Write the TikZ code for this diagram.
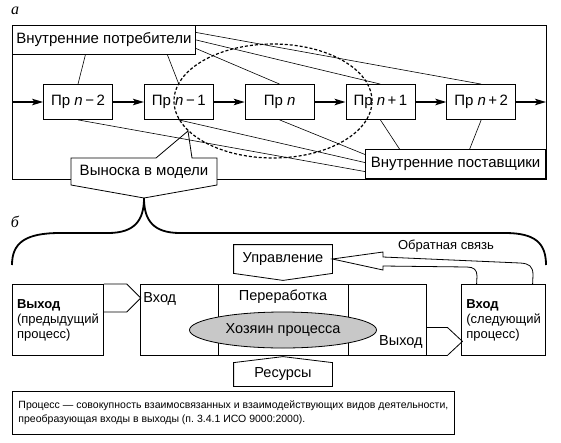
\documentclass[tikz,border=0pt]{standalone}
\usepackage{fontspec}
\setmainfont{Liberation Sans}
\newfontfamily\partfont{Liberation Serif}
\usepackage{tikz}
\usetikzlibrary{arrows,arrows.meta,shapes,positioning}
\definecolor{ownergray}{RGB}{200,200,200}
\tikzstyle{box} = [draw, rectangle, line width=0.8pt, fill=white, inner sep=2pt]
\tikzstyle{pr} = [box, minimum width=69pt, minimum height=35pt]
\tikzstyle{cell} = [box, minimum height=71pt]
\tikzstyle{side} = [box, minimum height=71pt, align=left, inner sep=0pt, font=\fontsize{13}{15}\selectfont]
\tikzstyle{lbl} = [inner sep=0pt, font=\fontsize{14.5}{17}\selectfont]
\tikzstyle{flow} = [line width=1.4pt,->,>={Stealth[length=11pt,width=6.5pt,inset=2.5pt]}]
\tikzstyle{link} = [line width=0.6pt]
\tikzstyle{part} = [inner sep=0pt, font=\partfont\itshape\fontsize{16}{16}\selectfont]

\begin{document}
\begin{tikzpicture}[x=1pt, y=-1pt, line width=0.8pt, font=\fontsize{15}{18}\selectfont]
\useasboundingbox (0,0) rectangle (561,442);

% a: chain of processes
\node[part] (la) at (15,11) {а};
\draw (12,25) rectangle (546,179);
\draw[fill=white] (71,185) -- (71,158) -- (156,158) -- (188,131) -- (192,158) -- (217,158) -- (217,185) -- (144,198) -- cycle;

\node[box, anchor=north west, minimum width=183pt, minimum height=29pt] (potreb) at (12,25) {Внутренние потребители};
\node[box, anchor=south east, minimum width=180pt, minimum height=29pt] (postav) at (546,179) {Внутренние поставщики};
\node[pr] (p1) at (78,102) {Пр \textit{n}\,−\,2};
\node[pr, right=31pt of p1] (p2) {Пр \textit{n}\,−\,1};
\node[pr, right=31pt of p2] (p3) {Пр \textit{n}};
\node[pr, right=31pt of p3] (p4) {Пр \textit{n}\,+\,1};
\node[pr, right=31pt of p4] (p5) {Пр \textit{n}\,+\,2};

% consumers and suppliers
\draw[link] ([xshift=-18.5pt]potreb.south) -- (p1.north);
\draw[link] ([xshift=63.5pt]potreb.south) -- (p2.north);
\draw[link] ([yshift=-8.5pt]potreb.east) -- (p3.north);
\draw[link] (potreb.east) -- (p4.north);
\draw[link] ([yshift=7.5pt]potreb.east) -- (p5.north);
\draw[link] (p1.south) -- ([yshift=-7.5pt]postav.west);
\draw[link] (p2.south) -- ([yshift=1.5pt]postav.west);
\draw[link] (p3.south) -- ([yshift=9.5pt]postav.west);
\draw[link] (p4.south) -- ([xshift=-56pt]postav.north);
\draw[link] (p5.south) -- ([xshift=14pt]postav.north);

% flow
\coordinate (entry) at (12,102);
\coordinate (exit) at (546,102);
\draw[flow] (entry) -- (p1);
\foreach \a/\b in {p1/p2,p2/p3,p3/p4,p4/p5}
  \draw[flow] (\a) -- (\b);
\draw[flow] (p5) -- (exit);

\draw[line width=1.2pt, dash pattern=on 3pt off 2pt] (273,101) ellipse [x radius=99pt, y radius=57pt];
\node (vyn) at (144,171.5) {Выноска в модели};

% b: process model
\node[part] (lb) at (15,222) {б};
\draw[line width=1.8pt] (12,265) .. controls (12,243) and (25,233) .. (60,233) -- (108,233) .. controls (135,233) and (144,220) .. (144,198) .. controls (144,220) and (153,233) .. (180,233) -- (505,233) .. controls (535,233) and (546,243) .. (546,265);

\node[side, anchor=north west, minimum width=91pt] (prev) at (12,284) {\textbf{Выход}\\(предыдущий\\процесс)};
\node[cell, minimum width=78pt] (cin) at (179,319.5) {};
\node[cell, minimum width=130pt] (cwork) at (283,319.5) {};
\node[cell, minimum width=78pt] (cout) at (387,319.5) {};
\node[side, anchor=north east, minimum width=84pt] (next) at (546,284) {\textbf{Вход}\\(следующий\\процесс)};

\node[ellipse, draw, fill=ownergray, minimum width=187pt, minimum height=36pt, inner sep=0pt, font=\fontsize{14.5}{17}\selectfont] (owner) at (283,330) {Хозяин процесса};
\node[lbl, anchor=base west] (tin) at (143,302) {Вход};
\node[lbl, anchor=base] (twork) at (283,300) {Переработка};
\node[lbl, anchor=base east] (tout) at (423,345) {Выход};

% in / out
\draw (prev.north east) -- ++(23,0) -- ++(14,14) -- ++(-14,14) -- ++(-23,0);
\draw ([yshift=28pt]cout.south east) -- ++(21,0) -- ++(15,14) -- ++(-15,14) -- ++(-21,0);

% control, resources
\node[lbl, minimum width=98pt, minimum height=28pt] (upr) at (283,259) {Управление};
\draw (upr.south west) -- (upr.north west) -- (upr.north east) -- (upr.south east) -- ([yshift=-7pt]upr.south) -- cycle;
\node[lbl, minimum width=98pt, minimum height=23pt] (res) at (283,374.5) {Ресурсы};
\draw (res.north west) -- ([yshift=6pt]res.north) -- (res.north east) -- (res.south east) -- (res.south west) -- cycle;

% feedback
\draw ([xshift=29pt]next.north) -- (533,275) .. controls (533,266) and (529,263.5) .. (520,263) -- (383,257) -- (383,252) -- (upr.east) -- (383,270) -- (383,266) -- (467,267) .. controls (474,267) and (477,270) .. (477,276) -- ([xshift=-27pt]next.north);
\node[font=\fontsize{13}{15}\selectfont] (fb) at (446,246) {Обратная связь};

\node[box, anchor=north west, minimum width=442pt, minimum height=43pt, align=left, inner sep=0pt, font=\fontsize{10.5}{14}\selectfont] (defn) at (12,391) {Процесс — совокупность взаимосвязанных и взаимодействующих видов деятельности,\\преобразующая входы в выходы (п.~3.4.1 ИСО 9000:2000).};
\end{tikzpicture}
\end{document}
